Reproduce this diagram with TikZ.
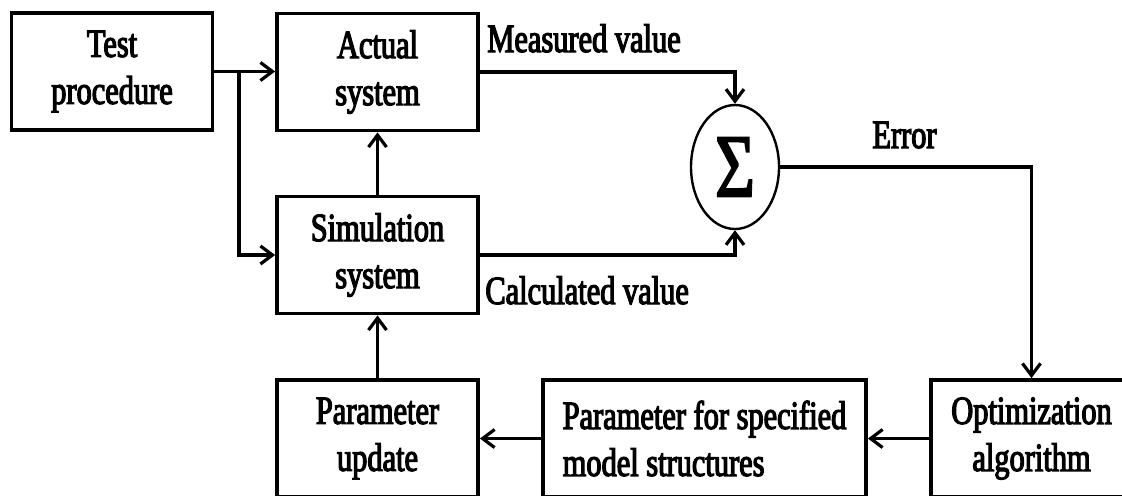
\documentclass[tikz,border=0pt]{standalone}
\usepackage{fontspec}
\setmainfont{Liberation Serif}[FakeStretch=0.73]
\newfontfamily\diagfont{Liberation Serif}[FakeStretch=0.76,FakeBold=3]
\newfontfamily\sigmafont{Liberation Serif}[FakeStretch=0.76,FakeBold=2]
\usetikzlibrary{arrows.meta,shapes.geometric}
\newcommand\boxfont{\fontsize{20pt}{23.5pt}\selectfont\diagfont}
\begin{document}
\begin{tikzpicture}[x=0.5pt,y=-0.5pt,
  box/.style={draw,line width=1.9pt,minimum width=100.5pt,minimum height=58.5pt,
    inner sep=0pt,align=center,font=\boxfont},
  lbl/.style={inner sep=0pt,font=\boxfont},
  conn/.style={line width=1.6pt,-{Straight Barb[length=6pt,width=9pt]}}]
  \useasboundingbox (0,0) rectangle (1122,495);
  \fill[white] (0,0) rectangle (1122,495);
  \clip (0,0) rectangle (1122,495);

  % blocks
  \node[box] (test) at (112,71.5) {Test\\procedure};
  \node[box] (act) at (377.5,72) {Actual\\system};
  \node[box] (sim) at (377.5,255) {Simulation\\system};
  \node[box] (upd) at (377.5,438.5) {Parameter\\update};
  \node[box,minimum width=161.5pt,align=left] (spec) at (704.5,438.5)
    {Parameter for specified\\model structures};
  \node[box] (opt) at (1031.5,438.5) {Optimization\\algorithm};
  \node[ellipse,draw,line width=1.2pt,minimum width=44pt,minimum height=62pt,
    inner sep=0pt] (sum) at (735,167) {\fontsize{45pt}{45pt}\selectfont\sigmafont Σ};

  % signal labels
  \node[lbl,anchor=base west] (mv) at (487,52) {Measured value};
  \node[lbl,anchor=base west] (cv) at (485,304) {Calculated value};
  \node[lbl,anchor=base west] (err) at (872,148) {Error};

  % connectors
  \coordinate (split) at (239,71.5);
  \draw[conn] (test.east) -- (test.east -| act.west);
  \draw[conn] (split) |- (sim.west);
  \draw[conn] (sim.north) -- (act.south);
  \draw[conn] (act.east) -| (sum.north);
  \draw[conn] (sim.east) -| (sum.south);
  \draw[conn] (sum.east) -| (opt.north);
  \draw[conn] (opt.west) -- (spec.east);
  \draw[conn] (spec.west) -- (upd.east);
  \draw[conn] (upd.north) -- (sim.south);
\end{tikzpicture}
\end{document}
